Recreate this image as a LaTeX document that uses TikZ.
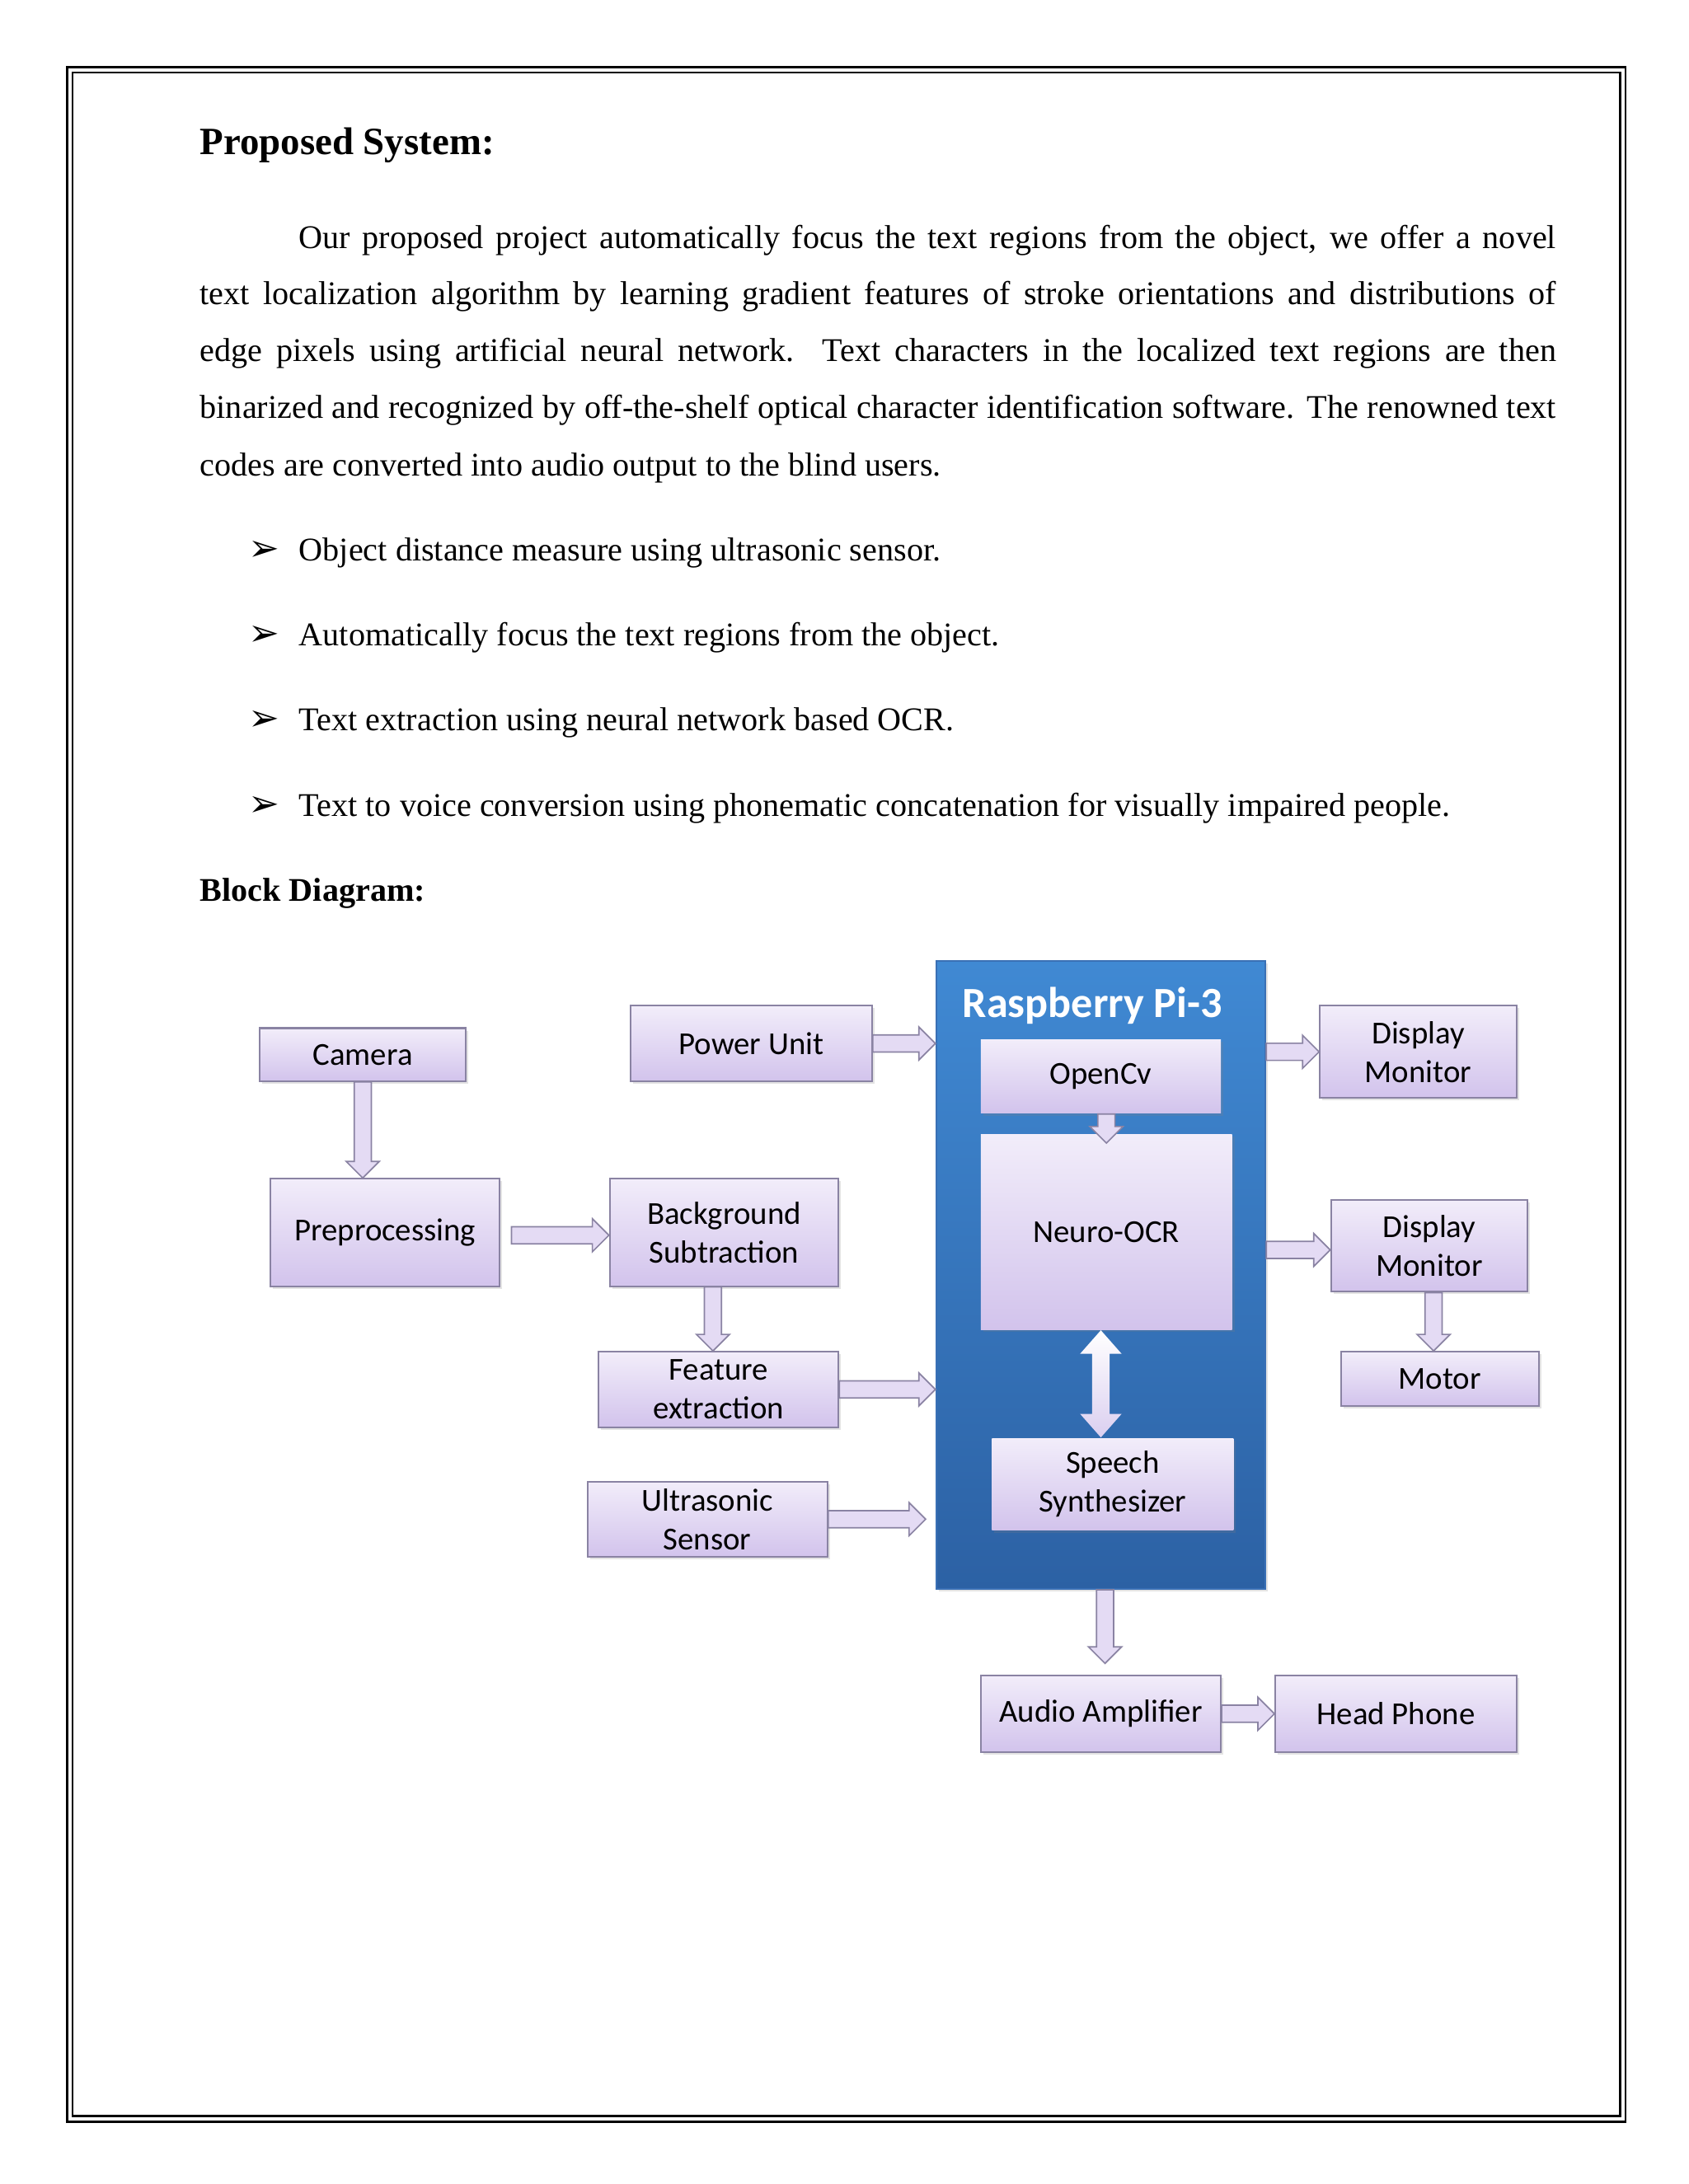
\documentclass[tikz,border=0pt]{standalone}
\usepackage{fontspec}
\setmainfont{Liberation Serif}
\newfontfamily\calibri{Carlito}
\newfontfamily\dingfont{DejaVu Sans}
\usepackage{xcolor}
\usetikzlibrary{calc, shadows}

\definecolor{lavtop}{HTML}{F2EDFA}
\definecolor{lavbot}{HTML}{D2C3EC}
\definecolor{boxline}{HTML}{8A83A3}
\definecolor{arrowfill}{HTML}{E4DBF4}
\definecolor{bluetop}{HTML}{4089D3}
\definecolor{bluebot}{HTML}{2C61A4}
\definecolor{blueline}{HTML}{3A70B5}

\tikzset{
  softshadow/.style={drop shadow={shadow xshift=0.9pt, shadow yshift=-0.9pt, opacity=0.22}},
  sz/.style 2 args={minimum width=#1*0.50579pt, minimum height=#2*0.50579pt},
  box/.style={draw=boxline, line width=0.6pt, top color=lavtop, bottom color=lavbot,
    font=\calibri\fontsize{11.6}{14}\selectfont, align=center, inner sep=0pt, softshadow},
  inbox/.style={box, draw=none},
  blockarrow/.style={draw=boxline, line width=0.5pt, fill=arrowfill},
  innerarrow/.style={top color=white, bottom color=lavbot!80},
  txt/.style={inner sep=0pt, font=\fontsize{12}{14}\selectfont}
}

% block arrows: right, down and up-down
\newcommand{\rblock}[2]{\draw[blockarrow] let \p1=#1, \p2=#2 in
  (\x1,\y1+3.1pt) -- (\x2-6pt,\y1+3.1pt) -- (\x2-6pt,\y1+6pt) -- (\x2,\y1)
  -- (\x2-6pt,\y1-6pt) -- (\x2-6pt,\y1-3.1pt) -- (\x1,\y1-3.1pt) -- cycle;}
\newcommand{\dblock}[2]{\draw[blockarrow] let \p1=#1, \p2=#2 in
  (\x1-3.1pt,\y1) -- (\x1-3.1pt,\y2+6pt) -- (\x1-6pt,\y2+6pt) -- (\x1,\y2)
  -- (\x1+6pt,\y2+6pt) -- (\x1+3.1pt,\y2+6pt) -- (\x1+3.1pt,\y1) -- cycle;}
\newcommand{\udblock}[2]{\path[innerarrow] let \p1=#1, \p2=#2 in
  (\x1,\y1) -- (\x1+7.5pt,\y1-8.5pt) -- (\x1+3.2pt,\y1-8.5pt) -- (\x1+3.2pt,\y2+8.5pt)
  -- (\x1+7.5pt,\y2+8.5pt) -- (\x1,\y2) -- (\x1-7.5pt,\y2+8.5pt) -- (\x1-3.2pt,\y2+8.5pt)
  -- (\x1-3.2pt,\y1-8.5pt) -- (\x1-7.5pt,\y1-8.5pt) -- cycle;}

\begin{document}
\begin{tikzpicture}[x=0.50579pt, y=-0.50579pt]
	\useasboundingbox (0,0) rectangle (1210,1565.6);
	\fill[white] (0,0) rectangle (1210,1565.6);
	% page border
	\draw[line width=0.8pt] (48,48) rectangle (1165,1521);
	\draw[line width=0.8pt] (52,52) rectangle (1161,1517);

	% text
	\node[txt, anchor=base west, font=\bfseries\fontsize{14}{16}\selectfont] (title) at (143,111) {Proposed System:};
	\node[txt, anchor=base west] (l1) at (214,178) {\makebox[455.7pt][s]{Our proposed project automatically focus the text regions from the object, we offer a novel}};
	\node[txt, anchor=base west] (l2) at (143,218) {\makebox[491.6pt][s]{text localization algorithm by learning gradient features of stroke orientations and distributions of}};
	\node[txt, anchor=base west] (l3) at (143,259) {\makebox[491.6pt][s]{edge pixels using artificial neural network. Text characters in the localized text regions are then}};
	\node[txt, anchor=base west] (l4) at (143,300) {\makebox[491.6pt][s]{binarized and recognized by off-the-shelf optical character identification software. The renowned text}};
	\node[txt, anchor=base west] (l5) at (143,341) {codes are converted into audio output to the blind users.};
	\foreach \i/\y/\t in {1/402/{Object distance measure using ultrasonic sensor.},
		2/463/{Automatically focus the text regions from the object.},
		3/524/{Text extraction using neural network based OCR.},
		4/585/{Text to voice conversion using phonematic concatenation for visually impaired people.}} {
		\node[txt, anchor=base west, font=\dingfont\fontsize{13.5}{15}\selectfont] (mark\i) at (178,\y) {➢};
		\node[txt, anchor=base west] (item\i) at (214,\y) {\t};
	}
	\node[txt, anchor=base west, font=\bfseries\fontsize{12}{14}\selectfont] (blockhead) at (143,646) {Block Diagram:};

	% raspberry pi
	\node[draw=blueline, line width=0.6pt, top color=bluetop, bottom color=bluebot, sz={236}{450}, softshadow] (pi) at (789,914) {};
	\node[font=\calibri\bfseries\fontsize{15.6}{18}\selectfont, text=white] (pititle) at (783,721) {Raspberry Pi-3};
	\node[inbox, sz={172}{53}] (opencv) at (789,771.5) {OpenCv};
	\node[inbox, sz={180}{140}] (ocr) at (793,883) {Neuro-OCR};
	\node[inbox, sz={173}{66}] (speech) at (797.5,1064) {Speech\\Synthesizer};

	% outer blocks
	\node[box, sz={148}{38}] (cam) at (260,756) {Camera};
	\node[box, sz={173}{54}] (power) at (538.5,748) {Power Unit};
	\node[box, sz={164}{77}] (pre) at (276,883.5) {Preprocessing};
	\node[box, sz={164}{77}] (bg) at (519,883.5) {Background\\Subtraction};
	\node[box, sz={172}{54}] (feat) at (515,996) {Feature\\extraction};
	\node[box, sz={172}{54}] (ultra) at (507,1089) {Ultrasonic\\Sensor};
	\node[box, sz={141}{66}] (disp1) at (1016.5,754) {Display\\Monitor};
	\node[box, sz={141}{66}] (disp2) at (1024.5,893) {Display\\Monitor};
	\node[box, sz={142}{39}] (motor) at (1032,988.5) {Motor};
	\node[box, sz={172}{55}] (audio) at (789,1228.5) {Audio Amplifier};
	\node[box, sz={173}{55}] (phone) at (1000.5,1228.5) {Head Phone};

	% arrows
	\dblock{(cam.south)}{(pre.north)}
	\rblock{(power.east)}{(pi.west)}
	\rblock{($(pre.east)+(8,2)$)}{(bg.west)}
	\dblock{($(bg.south)+(-8,0)$)}{(feat.north)}
	\rblock{(feat.east)}{(pi.west)}
	\rblock{(ultra.east)}{($(pi.west)+(-7,0)$)}
	\rblock{(pi.east |- disp1)}{(disp1.west)}
	\rblock{($(pi.east |- disp2)+(0,3)$)}{(disp2.west)}
	\dblock{($(disp2.south)+(3,0)$)}{(motor.north)}
	\dblock{(ocr.north |- opencv.south)}{($(ocr.north)+(0,7)$)}
	\udblock{($(ocr.south)+(-4,0)$)}{(speech.north)}
	\dblock{($(pi.south)+(3,0)$)}{($(audio.north)+(0,-8)$)}
	\rblock{(audio.east)}{(phone.west)}
\end{tikzpicture}
\end{document}
